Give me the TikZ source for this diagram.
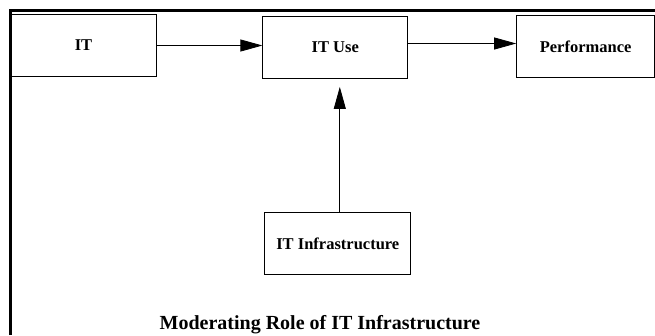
\documentclass[tikz,border=0pt]{standalone}
\usepackage{fontspec}
\setmainfont{Liberation Serif}
\usetikzlibrary{arrows.meta,positioning}

\tikzset{
  box/.style={draw, line width=0.8pt, minimum height=62pt, align=center,
    font=\fontsize{16.5}{19}\selectfont\bfseries},
  link/.style={line width=0.8pt, -{Triangle[length=22pt,width=12pt]}},
  frame/.style={line width=3pt, line join=miter}
}

\begin{document}
\begin{tikzpicture}[x=1pt, y=-1pt]
  \useasboundingbox (0,0) rectangle (655,335);
  \draw[frame] (10,335) -- (10,10) -- (655,10);

  \node[box, minimum width=145pt] (it) at (83.5,45.5) {IT};
  \node[box, minimum width=145pt, right=106pt of it, yshift=-2pt] (use) {IT Use};
  \node[box, minimum width=138pt, right=108pt of use, yshift=1pt] (perf) {Performance};
  \node[box, minimum width=146pt, below=133pt of use, xshift=2.5pt] (infra) {IT Infrastructure};

  \draw[link] (it.east) -- (it.east -| use.west);
  \draw[link] ([yshift=4pt]use.east) -- ([yshift=4pt]use.east -| perf.west);
  \draw[link] ([xshift=2pt]infra.north) -- ([xshift=2pt,yshift=-8pt]infra.north |- use.south);

  \node[anchor=base, font=\fontsize{20}{24}\selectfont\bfseries] (title) at (320,329)
    {Moderating Role of IT Infrastructure};
\end{tikzpicture}
\end{document}
